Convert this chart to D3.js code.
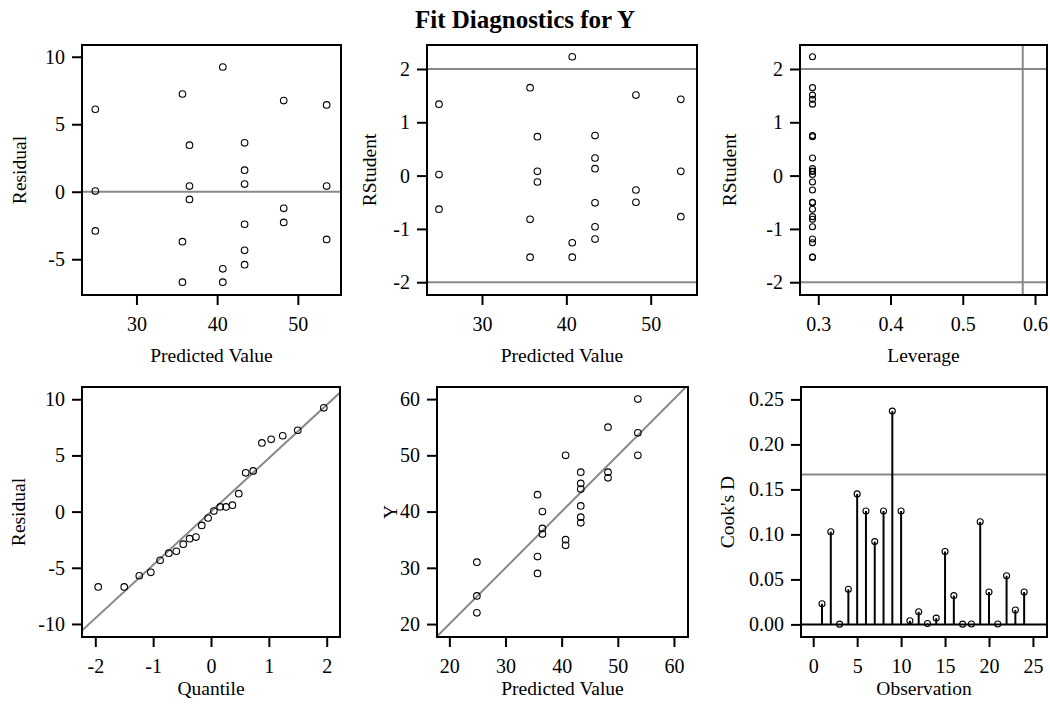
<!DOCTYPE html>
<html>
<head>
<meta charset="utf-8">
<script src="https://cdn.jsdelivr.net/npm/d3@7"></script>
<style>
  body { margin: 0; background: #fff; }
  svg { display: block; }
</style>
</head>
<body>
<div id="chart"></div>
<script>
// values
const predicted = [24.9, 24.9, 24.9, 35.7, 35.7, 35.7, 36.57, 36.57, 36.57, 40.7, 40.7, 40.7,
  43.4, 43.4, 43.4, 43.4, 43.4, 43.4, 48.25, 48.25, 48.25, 53.57, 53.57, 53.57]
const residual = [6.11, 0.05, -2.90, 7.24, -3.70, -6.70, 3.45, 0.42, -0.57, 9.24, -5.71, -6.70,
  3.62, 1.60, 0.57, -2.41, -4.34, -5.40, 6.75, -1.23, -2.27, 6.43, 0.42, -3.53]
const rstudent = [1.34, 0.02, -0.63, 1.65, -0.82, -1.53, 0.73, 0.08, -0.12, 2.23, -1.26, -1.53,
  0.75, 0.33, 0.13, -0.51, -0.96, -1.19, 1.51, -0.27, -0.50, 1.43, 0.08, -0.77]
const leverage = [0.292, 0.292, 0.292, 0.292, 0.292, 0.292, 0.292, 0.292, 0.292, 0.292, 0.292, 0.292,
  0.292, 0.292, 0.292, 0.292, 0.292, 0.292, 0.292, 0.292, 0.292, 0.292, 0.292, 0.292]
const observedY = [31, 25, 22, 43, 32, 29, 40, 37, 36, 50, 35, 34,
  47, 45, 44, 41, 39, 38, 55, 47, 46, 60, 54, 50]
const qqQuantile = [-1.95, -1.50, -1.24, -1.04, -0.88, -0.73, -0.60, -0.48, -0.37, -0.26, -0.16, -0.05,
  0.05, 0.16, 0.26, 0.37, 0.48, 0.60, 0.73, 0.88, 1.04, 1.24, 1.50, 1.95]
const qqResidual = [-6.70, -6.70, -5.71, -5.40, -4.34, -3.70, -3.53, -2.90, -2.41, -2.27, -1.23, -0.57,
  0.05, 0.42, 0.42, 0.57, 1.60, 3.45, 3.62, 6.11, 6.43, 6.75, 7.24, 9.24]
const observation = d3.range(1, 25)
const cooksD = [0.023, 0.103, 0.0003, 0.039, 0.145, 0.126, 0.092, 0.126, 0.237, 0.126, 0.004, 0.014,
  0.001, 0.007, 0.081, 0.032, 0.0003, 0.0005, 0.114, 0.036, 0.0005, 0.054, 0.016, 0.036]

// reference levels
const rstudentLimits = [-2, 2]
const leverageCutoff = 0.583
const cooksCutoff = 0.1667
const qqSlope = 4.75

const FONT = "'Liberation Serif', 'Times New Roman', serif"
const GRAY = '#888'
const TICK_FONT = '20px'

const svg = d3.select('#chart').append('svg')
  .attr('width', 1050)
  .attr('height', 709)
  .style('font-family', FONT)

svg.append('text')
  .attr('x', 525)
  .attr('y', 28)
  .attr('text-anchor', 'middle')
  .style('font-size', '25px')
  .style('font-weight', 'bold')
  .text('Fit Diagnostics for Y')

// SAS style labels use a plain hyphen for negatives
const fmt = (spec) => (v) => d3.format(spec)(v).replace('\u2212', '-')

function panel (cfg) {
  const f = cfg.frame
  const xs = d3.scaleLinear().domain(cfg.xDomain).range([f.x0, f.x1])
  const ys = d3.scaleLinear().domain(cfg.yDomain).range([f.y1, f.y0])
  const g = svg.append('g')

  // reference lines
  const clip = 'clip' + cfg.id
  g.append('clipPath').attr('id', clip)
    .append('rect')
    .attr('x', f.x0).attr('y', f.y0)
    .attr('width', f.x1 - f.x0).attr('height', f.y1 - f.y0)
  const inner = g.append('g').attr('clip-path', `url(#${clip})`)
  cfg.draw(inner, xs, ys)

  // points
  inner.selectAll('circle')
    .data(cfg.xs.map((x, i) => [x, cfg.ys[i]]))
    .enter()
    .append('circle')
    .attr('cx', (d) => xs(d[0]))
    .attr('cy', (d) => ys(d[1]))
    .attr('r', cfg.r || 3.3)
    .attr('fill', 'none')
    .attr('stroke', '#000')
    .attr('stroke-width', 1.1)

  // frame
  g.append('rect')
    .attr('x', f.x0).attr('y', f.y0)
    .attr('width', f.x1 - f.x0).attr('height', f.y1 - f.y0)
    .attr('fill', 'none')
    .attr('stroke', '#000')
    .attr('stroke-width', 2)

  // axes
  const xAxis = g.append('g')
    .attr('transform', `translate(0,${f.y1})`)
    .call(d3.axisBottom(xs).tickValues(cfg.xTicks).tickFormat(fmt(cfg.xFormat || 'd'))
      .tickSize(10).tickSizeOuter(0).tickPadding(12))
  const yAxis = g.append('g')
    .attr('transform', `translate(${f.x0},0)`)
    .call(d3.axisLeft(ys).tickValues(cfg.yTicks).tickFormat(fmt(cfg.yFormat || 'd'))
      .tickSize(10).tickSizeOuter(0).tickPadding(7))
  for (const ax of [xAxis, yAxis]) {
    ax.select('.domain').remove()
    ax.selectAll('line').attr('stroke-width', 2)
    ax.selectAll('text')
      .style('font-family', FONT)
      .style('font-size', TICK_FONT)
      .attr('fill', '#000')
  }

  // titles
  g.append('text')
    .attr('x', (f.x0 + f.x1) / 2)
    .attr('y', f.y1 + cfg.xTitleGap)
    .attr('text-anchor', 'middle')
    .style('font-size', '19.5px')
    .text(cfg.xTitle)
  g.append('text')
    .attr('transform', `translate(${f.x0 - cfg.yTitleGap},${(f.y0 + f.y1) / 2}) rotate(-90)`)
    .attr('text-anchor', 'middle')
    .attr('dominant-baseline', 'central')
    .style('font-size', '19.5px')
    .text(cfg.yTitle)
}

function hline (g, xs, ys, v, color, w) {
  g.append('line')
    .attr('x1', xs.range()[0]).attr('x2', xs.range()[1])
    .attr('y1', ys(v)).attr('y2', ys(v))
    .attr('stroke', color).attr('stroke-width', w)
}
function vline (g, xs, ys, v, color, w) {
  g.append('line')
    .attr('x1', xs(v)).attr('x2', xs(v))
    .attr('y1', ys.range()[0]).attr('y2', ys.range()[1])
    .attr('stroke', color).attr('stroke-width', w)
}

// residual by predicted
panel({
  id: 1,
  frame: {x0: 82, x1: 341, y0: 45, y1: 295},
  xDomain: [23.25, 55.35], yDomain: [-7.65, 10.87],
  xTicks: [30, 40, 50], yTicks: [-5, 0, 5, 10],
  xs: predicted, ys: residual,
  xTitle: 'Predicted Value', yTitle: 'Residual', xTitleGap: 67, yTitleGap: 63,
  draw: (g, xs, ys) => hline(g, xs, ys, 0, GRAY, 2)
})

// rstudent by predicted
panel({
  id: 2,
  frame: {x0: 427, x1: 697, y0: 45, y1: 295},
  xDomain: [23.48, 55.49], yDomain: [-2.24, 2.45],
  xTicks: [30, 40, 50], yTicks: [-2, -1, 0, 1, 2],
  xs: predicted, ys: rstudent,
  xTitle: 'Predicted Value', yTitle: 'RStudent', xTitleGap: 67, yTitleGap: 58,
  draw: (g, xs, ys) => rstudentLimits.forEach((v) => hline(g, xs, ys, v, GRAY, 2))
})

// rstudent by leverage
panel({
  id: 3,
  frame: {x0: 800, x1: 1047, y0: 45, y1: 295},
  xDomain: [0.2747, 0.6166], yDomain: [-2.24, 2.45],
  xTicks: [0.3, 0.4, 0.5, 0.6], yTicks: [-2, -1, 0, 1, 2],
  xFormat: '.1f',
  xs: leverage, ys: rstudent, r: 3,
  xTitle: 'Leverage', yTitle: 'RStudent', xTitleGap: 67, yTitleGap: 71,
  draw: (g, xs, ys) => {
    rstudentLimits.forEach((v) => hline(g, xs, ys, v, GRAY, 2))
    vline(g, xs, ys, leverageCutoff, GRAY, 2)
  }
})

// residual QQ
panel({
  id: 4,
  frame: {x0: 82, x1: 340, y0: 387, y1: 637},
  xDomain: [-2.23, 2.23], yDomain: [-11.16, 11.09],
  xTicks: [-2, -1, 0, 1, 2], yTicks: [-10, -5, 0, 5, 10],
  xs: qqQuantile, ys: qqResidual,
  xTitle: 'Quantile', yTitle: 'Residual', xTitleGap: 58, yTitleGap: 64,
  draw: (g, xs, ys) => {
    const d = xs.domain()
    g.append('line')
      .attr('x1', xs(d[0])).attr('y1', ys(d[0] * qqSlope))
      .attr('x2', xs(d[1])).attr('y2', ys(d[1] * qqSlope))
      .attr('stroke', GRAY).attr('stroke-width', 2)
  }
})

// observed by predicted
panel({
  id: 5,
  frame: {x0: 437, x1: 688, y0: 387, y1: 637},
  xDomain: [17.8, 62.5], yDomain: [17.7, 62.15],
  xTicks: [20, 30, 40, 50, 60], yTicks: [20, 30, 40, 50, 60],
  xs: predicted, ys: observedY,
  xTitle: 'Predicted Value', yTitle: 'Y', xTitleGap: 58, yTitleGap: 47,
  draw: (g, xs, ys) => {
    g.append('line')
      .attr('x1', xs(15)).attr('y1', ys(15))
      .attr('x2', xs(65)).attr('y2', ys(65))
      .attr('stroke', GRAY).attr('stroke-width', 2)
  }
})

// cook's D by observation
panel({
  id: 6,
  frame: {x0: 801, x1: 1047, y0: 387, y1: 637},
  xDomain: [-1.39, 26.6], yDomain: [-0.014, 0.2638],
  xTicks: [0, 5, 10, 15, 20, 25], yTicks: [0, 0.05, 0.1, 0.15, 0.2, 0.25],
  yFormat: '.2f',
  xs: observation, ys: cooksD, r: 3,
  xTitle: 'Observation', yTitle: "Cook's D", xTitleGap: 58, yTitleGap: 74,
  draw: (g, xs, ys) => {
    hline(g, xs, ys, cooksCutoff, GRAY, 2)
    g.selectAll('.stem')
      .data(observation)
      .enter()
      .append('line')
      .classed('stem', true)
      .attr('x1', (d) => xs(d)).attr('x2', (d) => xs(d))
      .attr('y1', ys(0)).attr('y2', (d, i) => ys(cooksD[i]))
      .attr('stroke', '#000').attr('stroke-width', 2)
    hline(g, xs, ys, 0, '#000', 2)
  }
})
</script>
</body>
</html>
